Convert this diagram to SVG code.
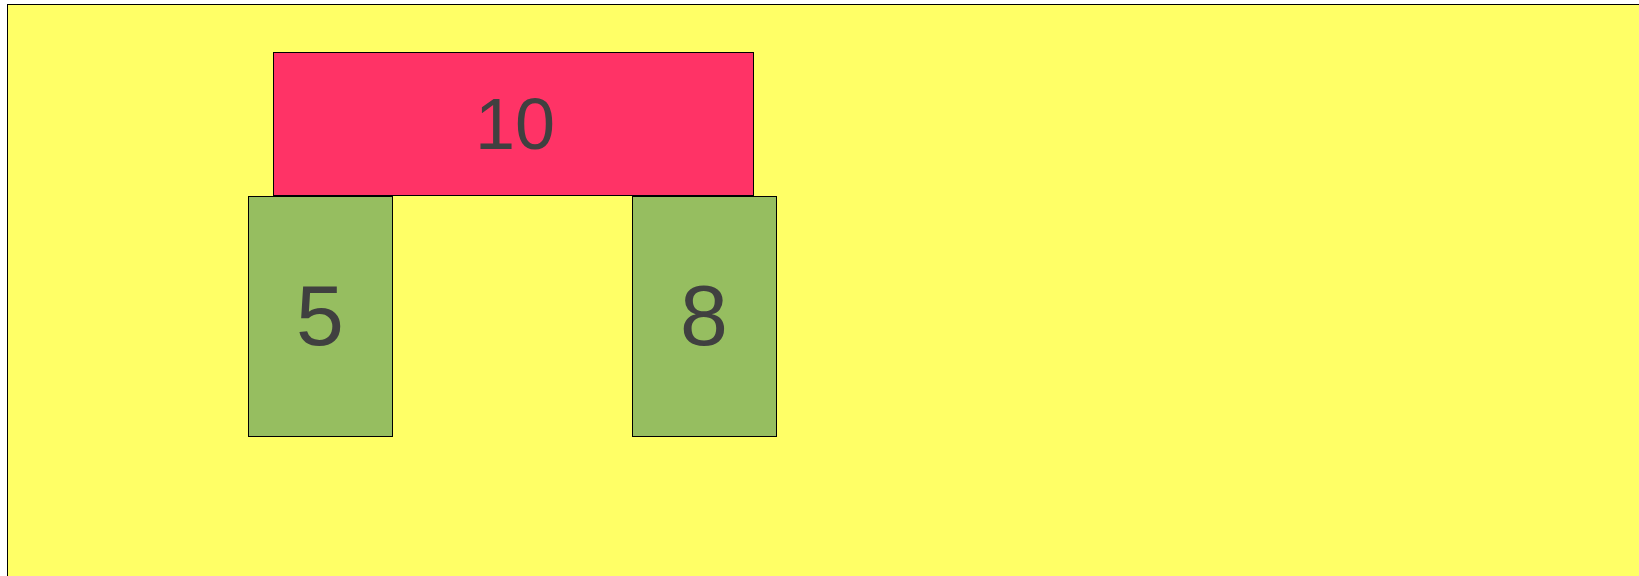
<svg xmlns="http://www.w3.org/2000/svg" width="1639" height="576" viewBox="0 0 1639 576">
  <style>
    .box { stroke: #000000; stroke-width: 1; }
    .lbl { font-family: "Liberation Sans", Arial, sans-serif; fill: #404040; text-anchor: middle; }
  </style>
  <rect width="1639" height="576" fill="#ffffff"/>
  <rect id="background" x="7.5" y="4.5" width="1700" height="700" fill="#FFFF66" class="box"/>
  <g id="connectors"></g>
  <g id="node-10">
    <rect x="273.5" y="52.5" width="480" height="143" fill="#FF3366" class="box"/>
    <text x="515" y="149" font-size="72" class="lbl">10</text>
  </g>
  <g id="node-5">
    <rect x="248.5" y="196.5" width="144" height="240" fill="#96BE60" class="box"/>
    <text x="320" y="345" font-size="86" class="lbl">5</text>
  </g>
  <g id="node-8">
    <rect x="632.5" y="196.5" width="144" height="240" fill="#96BE60" class="box"/>
    <text x="704" y="345" font-size="86" class="lbl">8</text>
  </g>
</svg>
